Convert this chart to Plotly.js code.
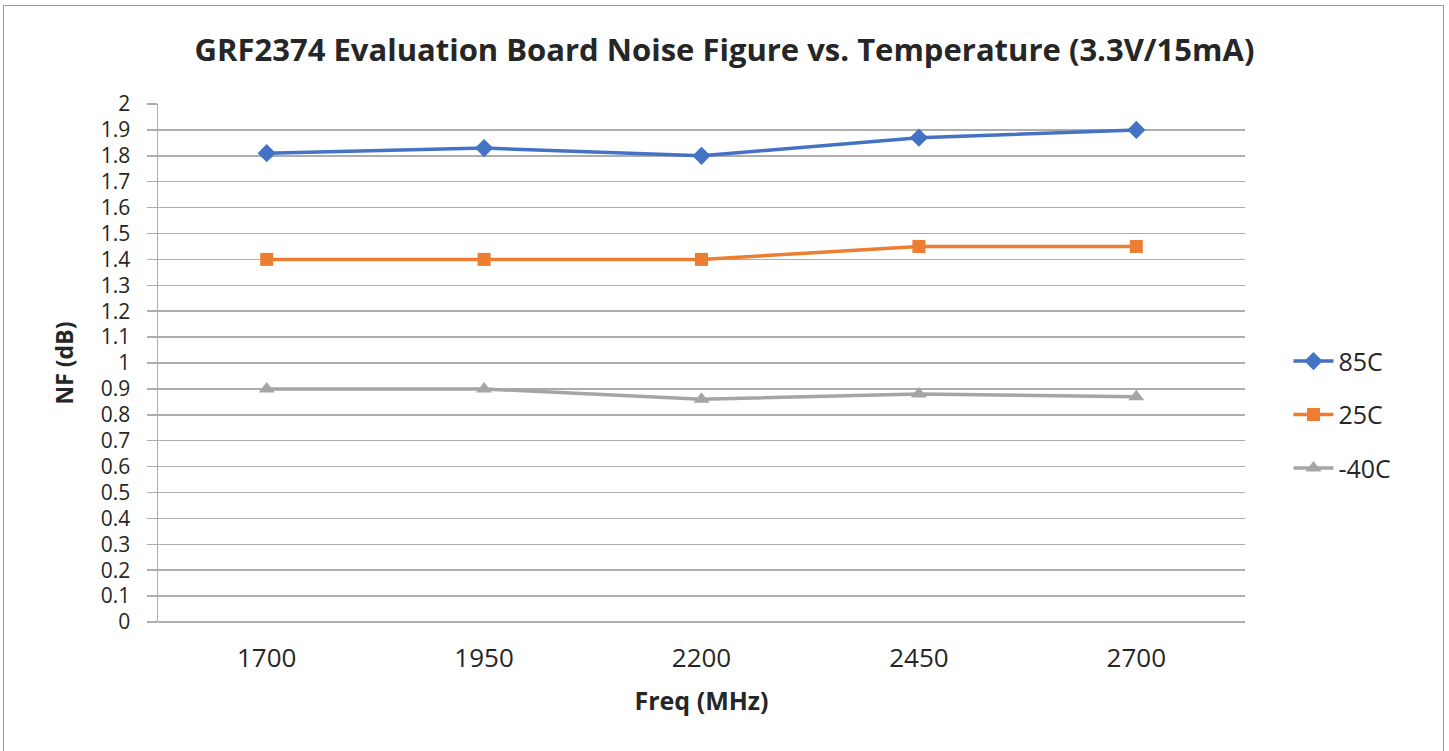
<!DOCTYPE html>
<html>
<head>
<meta charset="utf-8">
<script src="https://cdn.plot.ly/plotly-3.0.1.min.js"></script>
<style>
  html, body { margin: 0; padding: 0; background: #fff; }
  #wrap { position: relative; width: 1449px; height: 751px; overflow: hidden; }
  #chart { width: 1449px; height: 751px; }
  #frame { position: absolute; left: 3px; top: 5px; width: 1441px; height: 800px;
           border: 1.5px solid #9a9a9a; box-sizing: border-box; pointer-events: none; }
</style>
</head>
<body>
<div id="wrap">
  <div id="chart"></div>
  <div id="frame"></div>
</div>
<script>
const freqs = ['1700', '1950', '2200', '2450', '2700'];
const nf85C = [1.81, 1.83, 1.80, 1.87, 1.90];
const nf25C = [1.40, 1.40, 1.40, 1.45, 1.45];
const nfM40C = [0.90, 0.90, 0.86, 0.88, 0.87];
const seriesNames = ['85C', '25C', '-40C'];
const yTickVals = [0, 0.1, 0.2, 0.3, 0.4, 0.5, 0.6, 0.7, 0.8, 0.9, 1, 1.1, 1.2, 1.3, 1.4, 1.5, 1.6, 1.7, 1.8, 1.9, 2];
const yTickText = ['0', '0.1', '0.2', '0.3', '0.4', '0.5', '0.6', '0.7', '0.8', '0.9', '1', '1.1', '1.2', '1.3', '1.4', '1.5', '1.6', '1.7', '1.8', '1.9', '2'];

const FONT = 'Open Sans, Liberation Sans, sans-serif';

function trace(name, y, color, symbol, size, group) {
  return {
    type: 'scatter', mode: 'lines+markers', name: name, x: freqs, y: y,
    legendgroup: group,
    line: { color: color, width: 3.5 },
    marker: { color: color, symbol: symbol, size: size }
  };
}

const data = [
  trace(seriesNames[0], nf85C, '#4472C4', 'diamond', 14, 'g1'),
  trace(seriesNames[1], nf25C, '#ED7D31', 'square', 13, 'g2'),
  trace(seriesNames[2], nfM40C, '#A5A5A5', 'triangle-up', 14, 'g3')
];

const layout = {
  width: 1449, height: 751,
  paper_bgcolor: '#ffffff', plot_bgcolor: '#ffffff',
  font: { family: FONT, color: '#262626' },
  margin: { l: 158, r: 204, t: 104, b: 129, pad: 0 },
  title: {
    text: '<b>GRF2374 Evaluation Board Noise Figure vs. Temperature (3.3V/15mA)</b>',
    font: { family: FONT, size: 31, color: '#262626' },
    x: 0.5, xref: 'container', xanchor: 'center',
    y: 1 - 50 / 751, yref: 'container', yanchor: 'middle'
  },
  xaxis: {
    type: 'category', range: [-0.5, 4.5],
    showgrid: false, zeroline: false,
    showline: false,
    ticks: '', ticklabelstandoff: 18,
    tickfont: { family: FONT, size: 26, color: '#262626' },
    title: { text: '<b>Freq (MHz)</b>', font: { family: FONT, size: 25, color: '#262626' }, standoff: 18 },
    fixedrange: true
  },
  yaxis: {
    range: [0, 2], tickmode: 'array', tickvals: yTickVals, ticktext: yTickText,
    showgrid: true, gridcolor: '#ADADAD', gridwidth: 1.5,
    zeroline: true, zerolinecolor: '#ADADAD', zerolinewidth: 1.5,
    showline: true, linecolor: '#ADADAD', linewidth: 1.5,
    ticks: 'outside', ticklen: 10, tickcolor: '#ADADAD', tickwidth: 1.5,
    ticklabelstandoff: 12,
    tickfont: { family: FONT, size: 21, color: '#262626' },
    title: { text: '<b>NF (dB)</b>', font: { family: FONT, size: 23, color: '#262626' }, standoff: 20 },
    fixedrange: true
  },
  showlegend: true,
  legend: {
    x: 1.04, xanchor: 'left', y: 0.40, yanchor: 'middle',
    traceorder: 'grouped', tracegroupgap: 18,
    font: { family: FONT, size: 25, color: '#262626' },
    bgcolor: 'rgba(0,0,0,0)', itemwidth: 40
  },
  hovermode: false
};

Plotly.newPlot('chart', data, layout, { displayModeBar: false, staticPlot: true });
</script>
</body>
</html>
